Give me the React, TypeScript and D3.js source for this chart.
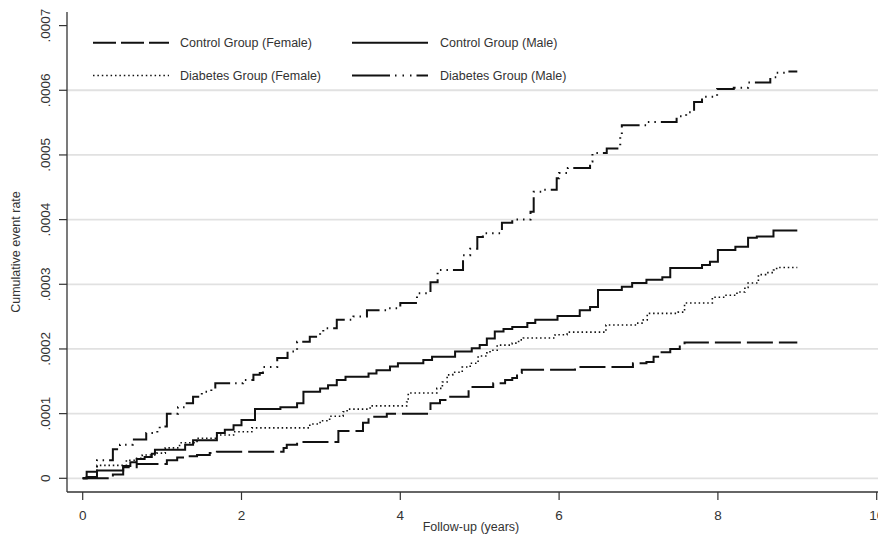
import React from "react";
import * as d3 from "d3";

// Follow-up time (years) at each step, cumulative event rate after the step
const cfTimes = [0, 0.38, 0.51, 0.68, 1.06, 1.19, 1.29, 1.44, 1.6, 1.69, 2.53, 2.57, 2.7, 3.22, 3.53, 3.6, 3.83, 4.38, 4.5, 4.6, 4.86, 5.17, 5.32, 5.41, 5.47, 5.53, 6.2, 6.93, 7.1, 7.19, 7.27, 7.4, 7.52, 7.58, 9];
const cfRates = [0, 0.000006, 0.000017, 0.000022, 0.000028, 0.000032, 0.000034, 0.000036, 0.000039, 0.000041, 0.000047, 0.000052, 0.000056, 0.000073, 0.000086, 0.000095, 0.0001, 0.000116, 0.000121, 0.000126, 0.000141, 0.000147, 0.000152, 0.000155, 0.000163, 0.000168, 0.000172, 0.000178, 0.00018, 0.000188, 0.000195, 0.0002, 0.000206, 0.00021, 0.00021];

const cmTimes = [0, 0.05, 0.18, 0.51, 0.6, 0.68, 0.78, 0.87, 0.91, 1.29, 1.39, 1.69, 1.79, 1.9, 2.0, 2.17, 2.49, 2.7, 2.78, 2.99, 3.09, 3.2, 3.31, 3.6, 3.7, 3.87, 3.97, 4.29, 4.4, 4.69, 4.9, 5.0, 5.09, 5.19, 5.3, 5.41, 5.6, 5.7, 5.98, 6.26, 6.39, 6.49, 6.79, 6.92, 7.1, 7.3, 7.4, 7.8, 7.9, 8.0, 8.22, 8.38, 8.49, 8.7, 9];
const cmRates = [0, 0.000002, 0.000012, 0.000019, 0.000025, 0.00003, 0.000033, 0.000038, 0.000044, 0.000052, 0.000059, 0.00007, 0.000075, 0.000082, 0.00009, 0.000107, 0.00011, 0.000116, 0.000134, 0.000139, 0.000144, 0.000152, 0.000157, 0.000162, 0.000167, 0.000173, 0.000178, 0.000183, 0.000188, 0.000196, 0.000201, 0.000206, 0.000216, 0.000227, 0.000231, 0.000234, 0.00024, 0.000245, 0.000251, 0.00026, 0.000265, 0.000291, 0.000296, 0.000302, 0.000307, 0.000311, 0.000325, 0.00033, 0.000335, 0.000353, 0.000358, 0.000372, 0.000374, 0.000383, 0.000383];

const dfTimes = [0, 0.18, 0.55, 0.68, 0.75, 0.93, 1.04, 1.22, 1.44, 1.69, 1.9, 2.13, 2.86, 2.99, 3.11, 3.28, 3.33, 3.62, 4.08, 4.1, 4.46, 4.53, 4.59, 4.66, 4.78, 4.88, 4.98, 5.09, 5.13, 5.22, 5.41, 5.49, 5.55, 5.95, 6.1, 6.59, 6.98, 7.06, 7.11, 7.5, 7.58, 7.93, 8.09, 8.24, 8.34, 8.38, 8.51, 8.6, 8.7, 8.74, 9];
const dfRates = [0, 0.00002, 0.000028, 0.000031, 0.000036, 0.000039, 0.000047, 0.000055, 0.000062, 0.000067, 0.000072, 0.000078, 0.000084, 0.000089, 0.000096, 0.000103, 0.000107, 0.000112, 0.000118, 0.000132, 0.000139, 0.000149, 0.00016, 0.000164, 0.000172, 0.000178, 0.000189, 0.000194, 0.000198, 0.000206, 0.000209, 0.000214, 0.000217, 0.000222, 0.000226, 0.000237, 0.00024, 0.000245, 0.000255, 0.000257, 0.000271, 0.00028, 0.000283, 0.000288, 0.000295, 0.000302, 0.000315, 0.000318, 0.000322, 0.000326, 0.000326];

const dmTimes = [0, 0.05, 0.18, 0.38, 0.47, 0.63, 0.8, 0.94, 0.97, 1.06, 1.2, 1.29, 1.39, 1.5, 1.62, 1.67, 2.02, 2.15, 2.23, 2.27, 2.45, 2.58, 2.7, 2.86, 2.99, 3.03, 3.2, 3.41, 3.58, 3.85, 4.0, 4.21, 4.38, 4.47, 4.79, 4.88, 4.97, 5.04, 5.28, 5.41, 5.64, 5.68, 5.79, 5.97, 6.0, 6.11, 6.39, 6.42, 6.6, 6.77, 6.79, 7.1, 7.48, 7.6, 7.7, 7.8, 7.99, 8.2, 8.38, 8.66, 8.74, 8.86, 9];
const dmRates = [0, 0.00001, 0.000028, 0.000045, 0.000052, 0.00006, 0.00007, 0.000075, 0.00008, 0.0001, 0.00011, 0.000116, 0.000126, 0.000134, 0.000138, 0.000147, 0.000152, 0.00016, 0.000163, 0.000172, 0.000186, 0.000196, 0.000211, 0.000219, 0.000225, 0.000232, 0.000245, 0.00025, 0.00026, 0.000263, 0.000271, 0.000286, 0.000303, 0.000322, 0.000345, 0.000355, 0.000373, 0.000379, 0.000395, 0.0004, 0.000412, 0.000443, 0.000446, 0.000464, 0.000472, 0.00048, 0.00049, 0.000503, 0.00051, 0.000528, 0.000546, 0.000551, 0.00056, 0.000566, 0.000582, 0.00059, 0.000602, 0.000604, 0.000612, 0.00062, 0.000627, 0.000629, 0.000629];

const seriesNames = ["Control Group (Female)", "Control Group (Male)", "Diabetes Group (Female)", "Diabetes Group (Male)"];

const xTicks = [0, 2, 4, 6, 8, 10];
const yTicks = [0, 0.0001, 0.0002, 0.0003, 0.0004, 0.0005, 0.0006, 0.0007];
const yTickLabels = ["0", ".0001", ".0002", ".0003", ".0004", ".0005", ".0006", ".0007"];
const gridValues = [0, 0.0001, 0.0002, 0.0003, 0.0004, 0.0005, 0.0006];

const W = 878;
const H = 537;
const FONT = "'Liberation Sans', Arial, Helvetica, sans-serif";
const TEXT = "#333";
const AX = "#333";

export default function App() {
  const x = d3.scaleLinear().domain([0, 10]).range([82.7, 876.7]);
  const y = d3.scaleLinear().domain([0, 0.0007]).range([478.3, 25.6]);
  const axisLeft = 67;
  const axisBottom = 492;

  const line = d3
    .line<[number, number]>()
    .x((d) => x(d[0]))
    .y((d) => y(d[1]))
    .curve(d3.curveStepAfter);

  const zip = (t: number[], r: number[]) => t.map((v, i) => [v, r[i]] as [number, number]);

  const series = [
    { name: seriesNames[0], data: zip(cfTimes, cfRates), dash: "26 6", keyDash: "23 5", width: 2 },
    { name: seriesNames[1], data: zip(cmTimes, cmRates), dash: "none", keyDash: "none", width: 2 },
    { name: seriesNames[2], data: zip(dfTimes, dfRates), dash: "1.5 2.8", keyDash: "1.5 2.9", width: 1.6 },
    { name: seriesNames[3], data: zip(dmTimes, dmRates), dash: "20 5 1.5 5 1.5 5 1.5 5", keyDash: "38 5 1.5 6 1.5 6 1.5 5", width: 2 },
  ];

  const legendPos = [
    { kx: 93, ky: 42.7, tx: 180 },
    { kx: 352, ky: 42.7, tx: 440 },
    { kx: 93, ky: 75.5, tx: 180 },
    { kx: 352, ky: 75.5, tx: 440 },
  ];
  const keyLen = 76;

  return (
    <svg
      width={W}
      height={H}
      style={{ position: "absolute", left: 0, top: 0, background: "#fff" }}
      fontFamily={FONT}
    >
      <rect x={0} y={0} width={W} height={H} fill="#fff" />
      {gridValues.map((g) => (
        <line key={g} x1={axisLeft} x2={W} y1={y(g)} y2={y(g)} stroke="#e1e1e1" strokeWidth={1.8} />
      ))}
      {series.map((s) => (
        <path
          key={s.name}
          d={line(s.data) || ""}
          fill="none"
          stroke="#111"
          strokeWidth={s.width}
          strokeDasharray={s.dash}
          strokeLinejoin="miter"
        />
      ))}
      {/* axes */}
      <line x1={axisLeft} x2={axisLeft} y1={12} y2={axisBottom} stroke={AX} strokeWidth={1.3} />
      <line x1={axisLeft} x2={W} y1={axisBottom} y2={axisBottom} stroke={AX} strokeWidth={1.3} />
      {yTicks.map((t, i) => (
        <g key={t}>
          <line x1={axisLeft - 8} x2={axisLeft} y1={y(t)} y2={y(t)} stroke={AX} strokeWidth={1.2} />
          <text
            transform={`translate(50,${y(t)}) rotate(-90)`}
            textAnchor="middle"
            fontSize={13.5}
            fill={TEXT}
          >
            {yTickLabels[i]}
          </text>
        </g>
      ))}
      {xTicks.map((t) => (
        <g key={t}>
          <line x1={x(t)} x2={x(t)} y1={axisBottom} y2={axisBottom + 8} stroke={AX} strokeWidth={1.2} />
          <text x={x(t)} y={520} textAnchor="middle" fontSize={13.5} fill={TEXT}>
            {t}
          </text>
        </g>
      ))}
      <text x={471} y={531} textAnchor="middle" fontSize={12.5} fill={TEXT}>
        Follow-up (years)
      </text>
      <text transform={`translate(20,252) rotate(-90)`} textAnchor="middle" fontSize={12.5} fill={TEXT}>
        Cumulative event rate
      </text>
      {/* legend */}
      {series.map((s, i) => {
        const p = legendPos[i];
        return (
          <g key={"lg" + s.name}>
            <line
              x1={p.kx}
              x2={p.kx + keyLen}
              y1={p.ky}
              y2={p.ky}
              stroke="#111"
              strokeWidth={s.width}
              strokeDasharray={s.keyDash}
            />
            <text x={p.tx} y={p.ky + 4.5} fontSize={12.5} fill={TEXT}>
              {s.name}
            </text>
          </g>
        );
      })}
    </svg>
  );
}
